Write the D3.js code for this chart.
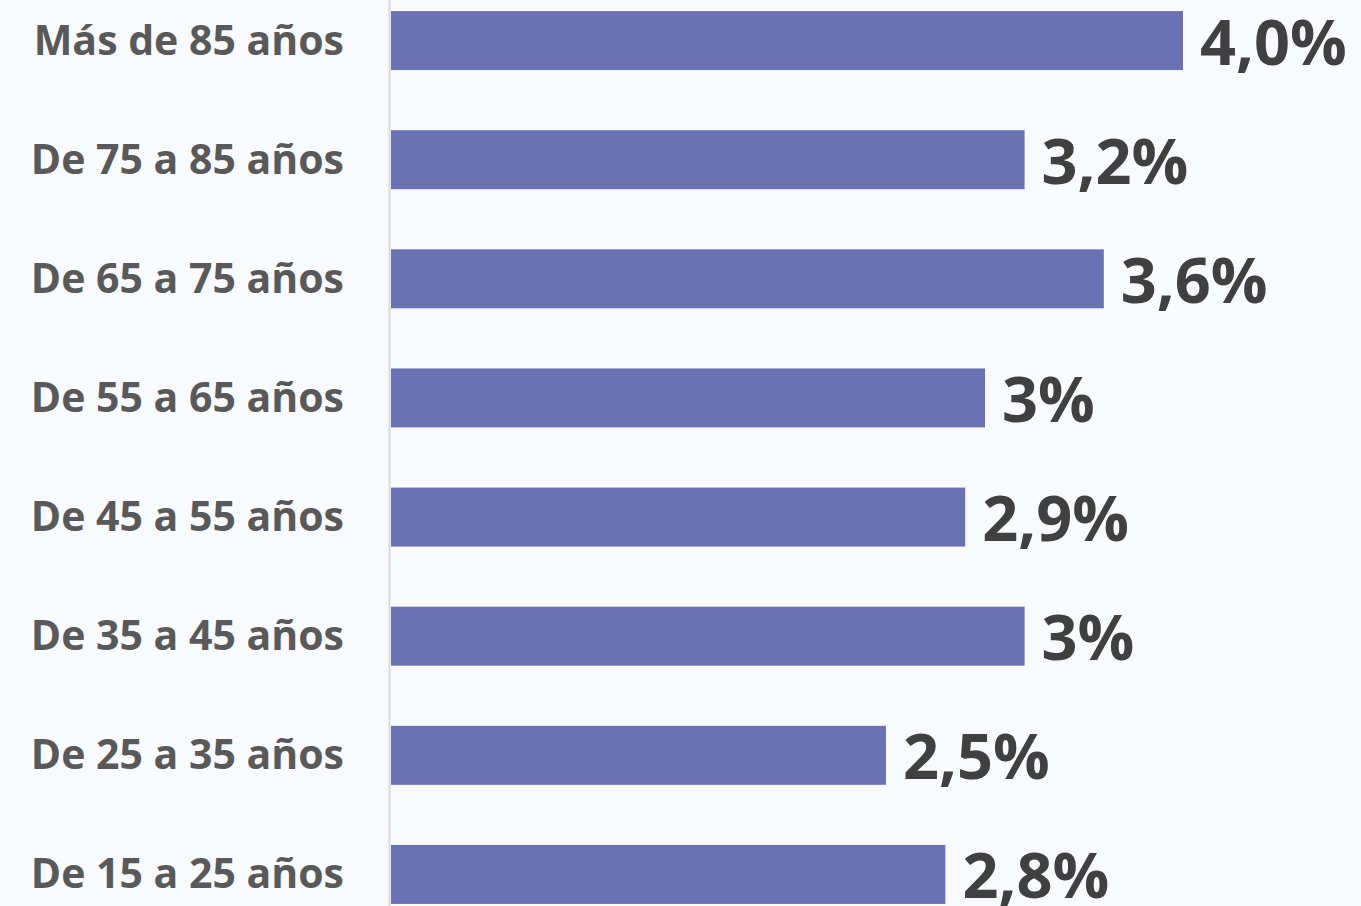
<!DOCTYPE html>
<html lang="es">
<head>
    <meta charset="UTF-8">
    <title>Por edad</title>
    <script src="https://d3js.org/d3.v7.min.js"></script>
    <style>
        html, body { margin: 0; padding: 0; background: #f8fafd; overflow: hidden; }
        text { font-family: "Open Sans", "Noto Sans", sans-serif; font-weight: bold; }
    </style>
</head>
<body>
    <div id="chart"></div>
    <script>
        const grupos = ["Más de 85 años", "De 75 a 85 años", "De 65 a 75 años", "De 55 a 65 años",
                        "De 45 a 55 años", "De 35 a 45 años", "De 25 a 35 años", "De 15 a 25 años"];
        const valores = [4.0, 3.2, 3.6, 3.0, 2.9, 3.2, 2.5, 2.8];
        const etiquetas = ["4,0%", "3,2%", "3,6%", "3%", "2,9%", "3%", "2,5%", "2,8%"];

        const width = 1361, height = 906;

        const svg = d3.select("#chart")
            .append("svg")
            .attr("width", width)
            .attr("height", height);

        svg.append("rect")
            .attr("width", width)
            .attr("height", height)
            .attr("fill", "#f8fafd");

        const y = d3.scaleBand()
            .domain(grupos)
            .range([-19, 934])
            .paddingInner(0.505)
            .paddingOuter(0.2525);

        const x = d3.scaleLinear()
            .domain([0, 4])
            .range([391, 1183]);

        // eje vertical
        svg.append("line")
            .attr("x1", 389.5).attr("x2", 389.5)
            .attr("y1", 0).attr("y2", height)
            .attr("stroke", "#d9d9d9")
            .attr("stroke-width", 2);

        svg.selectAll(".bar")
            .data(grupos)
            .enter()
            .append("rect")
            .attr("class", "bar")
            .attr("x", x(0))
            .attr("y", d => y(d))
            .attr("width", (d, i) => x(valores[i]) - x(0))
            .attr("height", y.bandwidth())
            .attr("fill", "#6a72b4");

        svg.selectAll(".cat")
            .data(grupos)
            .enter()
            .append("text")
            .attr("class", "cat")
            .attr("x", 344)
            .attr("y", d => y(d) + y.bandwidth() / 2 + 14)
            .attr("text-anchor", "end")
            .attr("font-size", "41px")
            .attr("fill", "#595959")
            .text(d => d);

        svg.selectAll(".val")
            .data(grupos)
            .enter()
            .append("text")
            .attr("class", "val")
            .attr("x", (d, i) => x(valores[i]) + 17)
            .attr("y", d => y(d) + y.bandwidth() / 2 + 24)
            .attr("font-size", "63px")
            .attr("fill", "#404040")
            .text((d, i) => etiquetas[i]);
    </script>
</body>
</html>
